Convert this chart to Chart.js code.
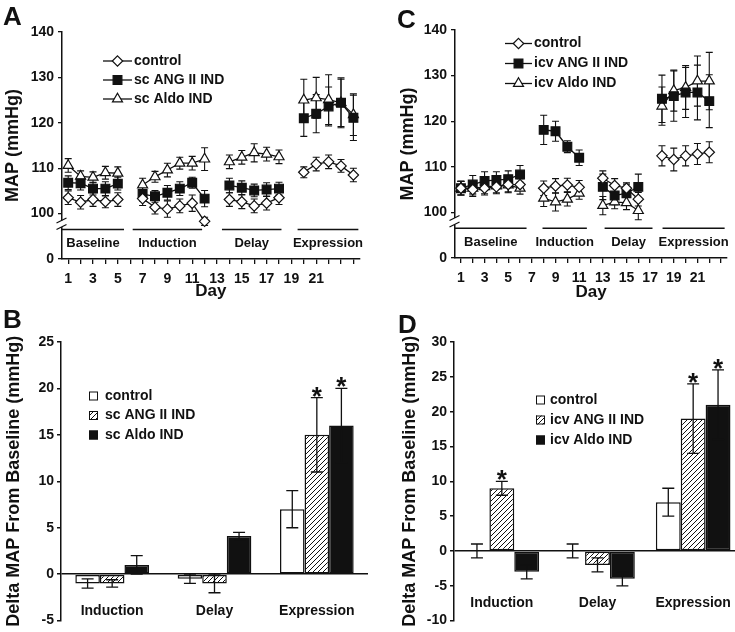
<!DOCTYPE html>
<html>
<head>
<meta charset="utf-8">
<script src="https://cdn.jsdelivr.net/npm/chart.js@4.4.1/dist/chart.umd.min.js"></script>
<style>
  html, body { margin: 0; padding: 0; background: #fff; overflow: hidden; }
  body { position: relative; width: 735px; height: 632px; }
  canvas { position: absolute; }
  .tag { position: absolute; font: bold 26px "Liberation Sans", Arial, sans-serif; line-height: 1; color: #111; }
</style>
</head>
<body>
<canvas id="chartA" width="367" height="310" style="left:0;top:0"></canvas>
<canvas id="chartC" width="368" height="310" style="left:367px;top:0"></canvas>
<canvas id="chartB" width="368" height="332" style="left:0;top:300px"></canvas>
<canvas id="chartD" width="374" height="332" style="left:367px;top:300px"></canvas>
<div class="tag" style="left:3px;top:3px">A</div>
<div class="tag" style="left:397px;top:6px">C</div>
<div class="tag" style="left:3px;top:306px">B</div>
<div class="tag" style="left:398px;top:311px">D</div>
<script>
const FONT = "'Liberation Sans', Arial, Helvetica, sans-serif";
const INK = "#111";

// Panel A: subcutaneous induction, daily MAP (mmHg), null = no recording that day
const aDays = [1, 2, 3, 4, 5, 6, 7, 8, 9, 10, 11, 12, 13, 14, 15, 16, 17, 18, 19, 20, 21, 22, 23, 24];
const aTickDays = aDays;
const aLabels = ["control", "sc ANG II IND", "sc Aldo IND"];
const aControl = [103.5, 102.5, 103.1, 102.6, 103.1, null, 103.3, 101.4, 101.0, 101.7, 102.3, 98.3, null, 103.1, 102.6, 101.7, 102.3, 103.5, null, 109.1, 110.9, 111.4, 110.5, 108.5];
const aControlSem = [1.5, 1.5, 1.5, 1.3, 1.5, null, 1.5, 1.5, 1.8, 1.5, 1.8, 0.9, null, 1.5, 1.5, 1.5, 1.5, 1.5, null, 1.2, 1.5, 1.5, 1.4, 1.5];
const aAng = [106.8, 106.7, 105.5, 105.5, 106.6, null, 104.3, 103.8, 104.6, 105.5, 106.8, 103.3, null, 106.2, 105.7, 105.1, 105.3, 105.5, null, 121.0, 122.0, 123.6, 124.4, 121.1];
const aAngSem = [1.5, 1.5, 1.4, 1.5, 1.4, null, 1.5, 1.3, 1.6, 1.5, 1.2, 1.8, null, 1.6, 1.5, 1.4, 1.5, 1.4, null, 4.0, 4.2, 4.3, 5.2, 5.0];
const aAldo = [110.6, 108.2, 108.0, 109.0, 108.9, null, 106.3, 108.1, 109.6, 111.1, 111.1, 112.0, null, 111.4, 112.4, 113.4, 113.1, 112.5, null, 125.0, 125.5, 125.1, 124.4, 121.8];
const aAldoSem = [1.5, 1.2, 1.2, 1.4, 1.4, null, 1.5, 1.2, 1.5, 1.3, 1.5, 2.5, null, 1.5, 1.5, 2.0, 1.5, 1.5, null, 4.6, 4.5, 5.5, 5.5, 4.6];
const aPhases = ["Baseline", "Induction", "Delay", "Expression"];
const aPhaseStart = [0.5, 6.2, 13.4, 19.5];
const aPhaseEnd = [5.5, 11.8, 18.2, 24.4];

// Panel C: intracerebroventricular induction
const cDays = [1, 2, 3, 4, 5, 6, 7, 8, 9, 10, 11, 12, 13, 14, 15, 16, 17, 18, 19, 20, 21, 22];
const cTickDays = [1, 2, 3, 4, 5, 6, 7, 8, 9, 10, 11, 12, 13, 14, 15, 16, 17, 18, 19, 20, 21, 22, 23];
const cLabels = ["control", "icv ANG II IND", "icv Aldo IND"];
const cControl = [105.3, 105.0, 105.3, 105.6, 106.1, 106.1, null, 105.3, 105.8, 106.0, 105.5, null, 107.5, 105.9, 105.3, 102.9, null, 112.4, 111.6, 112.4, 112.8, 113.2];
const cControlSem = [1.5, 1.5, 1.5, 1.5, 1.8, 1.3, null, 1.6, 1.6, 1.5, 1.5, null, 1.6, 1.5, 1.2, 1.5, null, 2.2, 2.5, 2.2, 2.3, 2.3];
const cAng = [105.3, 106.1, 106.9, 107.1, 107.3, 108.3, null, 118.1, 117.8, 114.4, 112.0, null, 105.6, 103.7, 104.2, 105.6, null, 124.9, 125.5, 126.3, 126.3, 124.4];
const cAngSem = [1.5, 2.0, 2.0, 1.8, 1.8, 2.0, null, 3.2, 2.2, 1.3, 1.7, null, 2.8, 2.0, 2.0, 2.8, null, 5.2, 5.5, 5.5, 6.0, 5.8];
const cAldo = [105.3, 105.3, 105.6, 105.8, 106.0, 105.3, null, 103.1, 102.3, 102.9, 104.2, null, 101.5, 102.3, 102.1, 100.4, null, 123.3, 126.7, 127.4, 128.8, 128.8];
const cAldoSem = [1.5, 1.5, 1.5, 1.5, 1.5, 1.3, null, 1.8, 2.0, 1.5, 1.3, null, 2.0, 1.5, 1.5, 2.0, null, 4.2, 4.5, 4.8, 5.5, 6.3];
const cPhases = ["Baseline", "Induction", "Delay", "Expression"];
const cPhaseStart = [0.5, 7.9, 13.15, 18.05];
const cPhaseEnd = [6.55, 11.65, 17.2, 23.3];

// Panels B and D: change in MAP from baseline per period
const periods = ["Induction", "Delay", "Expression"];
const bLabels = ["control", "sc ANG II IND", "sc Aldo IND"];
const bControl = [-1, -0.5, 7];
const bControlSem = [0.5, 0.5, 2];
const bAng = [-1, -1, 15];
const bAngSem = [0.4, 1, 4];
const bAngSig = [false, false, true];
const bAldo = [1, 4.1, 16];
const bAldoSem = [1, 0.4, 4];
const bAldoSig = [false, false, true];

const dLabels = ["control", "icv ANG II IND", "icv Aldo IND"];
const dControl = [0, 0, 7];
const dControlSem = [1, 1, 2];
const dAng = [9, -2, 19];
const dAngSem = [1, 1, 5];
const dAngSig = [true, false, true];
const dAldo = [-3, -4, 21];
const dAldoSem = [1, 1, 5];
const dAldoSig = [false, false, true];

Chart.defaults.font.family = FONT;
Chart.defaults.font.weight = "bold";
Chart.defaults.color = INK;

const markerControl = { shape: "rectRot", radius: 5.2, fill: "#fff" };
const markerAng = { shape: "rect", radius: 6.2, fill: INK };
const markerAldo = { shape: "triangle", radius: 5.8, fill: "#fff" };

function drawMarker(ctx, shape, x, y, r, fill) {
  ctx.beginPath();
  if (shape === "rectRot") {
    ctx.moveTo(x, y - r);
    ctx.lineTo(x + r, y);
    ctx.lineTo(x, y + r);
    ctx.lineTo(x - r, y);
  } else if (shape === "rect") {
    const h = r * Math.SQRT1_2;
    ctx.rect(x - h, y - h, 2 * h, 2 * h);
  } else {
    const dx = r * Math.sin(Math.PI / 3);
    ctx.moveTo(x, y - r);
    ctx.lineTo(x + dx, y + r / 2);
    ctx.lineTo(x - dx, y + r / 2);
  }
  ctx.closePath();
  ctx.fillStyle = fill;
  ctx.fill();
  ctx.lineWidth = 1.2;
  ctx.strokeStyle = INK;
  ctx.stroke();
}

function makeHatch(ctx) {
  const tile = document.createElement("canvas");
  tile.width = 5;
  tile.height = 5;
  const t = tile.getContext("2d");
  t.fillStyle = "#fff";
  t.fillRect(0, 0, 5, 5);
  t.strokeStyle = INK;
  t.lineWidth = 1;
  t.beginPath();
  t.moveTo(0, 5); t.lineTo(5, 0);
  t.moveTo(-1, 1); t.lineTo(1, -1);
  t.moveTo(4, 6); t.lineTo(6, 4);
  t.stroke();
  return ctx.createPattern(tile, "repeat");
}

function drawErrors(chart, opts) {
  const { ctx, scales: { y } } = chart;
  ctx.save();
  ctx.strokeStyle = INK;
  ctx.lineWidth = opts.width;
  chart.data.datasets.forEach((ds, di) => {
    chart.getDatasetMeta(di).data.forEach((el, i) => {
      const raw = ds.data[i];
      const value = raw !== null && typeof raw === "object" ? raw.y : raw;
      if (value == null || ds.errors[i] == null) return;
      const top = y.getPixelForValue(value + ds.errors[i]);
      const bottom = y.getPixelForValue(value - ds.errors[i]);
      ctx.beginPath();
      ctx.moveTo(el.x, top); ctx.lineTo(el.x, bottom);
      ctx.moveTo(el.x - opts.cap, top); ctx.lineTo(el.x + opts.cap, top);
      ctx.moveTo(el.x - opts.cap, bottom); ctx.lineTo(el.x + opts.cap, bottom);
      ctx.stroke();
      if (ds.sig && ds.sig[i]) {
        ctx.fillStyle = INK;
        ctx.font = `bold 26px ${FONT}`;
        ctx.textAlign = "center";
        ctx.textBaseline = "alphabetic";
        ctx.fillText("*", el.x, top + 7);
      }
    });
  });
  ctx.restore();
}

const errorBars = {
  id: "errorBars",
  beforeDatasetsDraw(chart, args, opts) { if (opts.behind) drawErrors(chart, opts); },
  afterDatasetsDraw(chart, args, opts) { if (!opts.behind) drawErrors(chart, opts); },
};

const phaseBands = {
  id: "phaseBands",
  afterDraw(chart, args, opts) {
    const { ctx, scales: { x, y } } = chart;
    const lineY = y.getPixelForValue(opts.lineValue);
    const textY = y.getPixelForValue(opts.textValue);
    ctx.save();
    ctx.strokeStyle = INK;
    ctx.lineWidth = 1.5;
    ctx.fillStyle = INK;
    ctx.font = `bold 13px ${FONT}`;
    ctx.textAlign = "center";
    ctx.textBaseline = "middle";
    opts.names.forEach((name, i) => {
      const x0 = x.getPixelForValue(opts.start[i]);
      const x1 = x.getPixelForValue(opts.end[i]);
      ctx.beginPath();
      ctx.moveTo(x0, lineY);
      ctx.lineTo(x1, lineY);
      ctx.stroke();
      ctx.fillText(name, (x0 + x1) / 2, textY);
    });
    ctx.restore();
  },
};

const axisBreak = {
  id: "axisBreak",
  afterDraw(chart, args, opts) {
    const { ctx, chartArea, scales: { y } } = chart;
    const x = chartArea.left;
    const yb = y.getPixelForValue(opts.value);
    ctx.save();
    ctx.fillStyle = "#fff";
    ctx.fillRect(x - 2, yb - 4, 4, 6.5);
    ctx.strokeStyle = INK;
    ctx.lineWidth = 1.3;
    ctx.beginPath();
    ctx.moveTo(x - 5.5, yb - 1.5); ctx.lineTo(x + 4.5, yb - 6.5);
    ctx.moveTo(x - 5.5, yb + 5); ctx.lineTo(x + 4.5, yb);
    ctx.stroke();
    ctx.restore();
  },
};

const lineKey = {
  id: "lineKey",
  afterDraw(chart, args, opts) {
    const ctx = chart.ctx;
    ctx.save();
    chart.data.datasets.forEach((ds, i) => {
      const y = opts.y + i * opts.step;
      ctx.strokeStyle = INK;
      ctx.lineWidth = ds.borderWidth;
      ctx.beginPath();
      ctx.moveTo(opts.x, y);
      ctx.lineTo(opts.x + opts.length, y);
      ctx.stroke();
      drawMarker(ctx, ds.pointStyle, opts.x + opts.length / 2, y, ds.pointRadius, ds.pointBackgroundColor);
      ctx.fillStyle = INK;
      ctx.font = `bold 14px ${FONT}`;
      ctx.textAlign = "left";
      ctx.textBaseline = "middle";
      ctx.fillText(ds.label, opts.x + opts.length + opts.gap, y);
    });
    ctx.restore();
  },
};

const boxKey = {
  id: "boxKey",
  afterDraw(chart, args, opts) {
    const ctx = chart.ctx;
    ctx.save();
    chart.data.datasets.forEach((ds, i) => {
      const y = opts.y + i * opts.step;
      ctx.fillStyle = ds.backgroundColor;
      ctx.fillRect(opts.x, y - opts.size / 2, opts.size, opts.size);
      ctx.strokeStyle = INK;
      ctx.lineWidth = 1;
      ctx.strokeRect(opts.x + 0.5, y - opts.size / 2 + 0.5, opts.size - 1, opts.size - 1);
      ctx.fillStyle = INK;
      ctx.font = `bold 14px ${FONT}`;
      ctx.textAlign = "left";
      ctx.textBaseline = "middle";
      ctx.fillText(ds.label, opts.x + opts.size + opts.gap, y);
    });
    ctx.restore();
  },
};

const groupLabels = {
  id: "groupLabels",
  afterDraw(chart, args, opts) {
    const { ctx, scales: { x, y } } = chart;
    const textY = y.getPixelForValue(opts.value);
    ctx.save();
    ctx.fillStyle = INK;
    ctx.font = `bold 14px ${FONT}`;
    ctx.textAlign = "center";
    ctx.textBaseline = "middle";
    chart.data.labels.forEach((label, i) => ctx.fillText(label, x.getPixelForValue(i), textY));
    ctx.restore();
  },
};

function lineSet(label, days, values, errors, marker) {
  return {
    label,
    data: days.map((day, i) => ({ x: day, y: values[i] })),
    errors,
    borderColor: INK,
    borderWidth: 1.3,
    tension: 0,
    spanGaps: false,
    pointStyle: marker.shape,
    pointRadius: marker.radius,
    pointBackgroundColor: marker.fill,
    pointBorderColor: INK,
    pointBorderWidth: 1.2,
  };
}

function barSet(label, values, errors, sig, fill, categoryPercentage) {
  return {
    label,
    data: values,
    errors,
    sig,
    backgroundColor: fill,
    borderColor: INK,
    borderWidth: 1.5,
    borderSkipped: false,
    barPercentage: 1,
    categoryPercentage,
  };
}

const tickFont = { size: 14, weight: "bold" };

function dayChart(canvas, datasets, cfg) {
  return new Chart(canvas, {
    type: "line",
    data: { datasets },
    options: {
      responsive: false,
      animation: false,
      devicePixelRatio: 1,
      layout: { padding: { top: cfg.top, right: cfg.right, left: 0, bottom: 0 } },
      scales: {
        x: {
          type: "linear",
          min: 0.5,
          max: cfg.maxDay,
          afterBuildTicks: (scale) => { scale.ticks = cfg.tickDays.map((value) => ({ value })); },
          afterFit: (scale) => { scale.height = cfg.xHeight; },
          ticks: {
            autoSkip: false,
            maxRotation: 0,
            minRotation: 0,
            padding: 7,
            font: tickFont,
            callback: (value) => (value % 2 === 1 && value <= 21 ? String(value) : ""),
          },
          grid: { drawOnChartArea: false, tickLength: 5, color: INK, lineWidth: 1.3 },
          border: { color: INK, width: 1.5 },
          title: { display: true, text: "Day", font: { size: 17, weight: "bold" }, padding: { top: 0, bottom: cfg.dayPad } },
        },
        y: {
          min: 90,
          max: 140,
          afterFit: (scale) => { scale.width = cfg.yWidth; },
          ticks: { stepSize: 10, padding: 4, font: tickFont, callback: (value) => (value === 90 ? "0" : String(value)) },
          grid: { drawOnChartArea: false, tickLength: 4, color: INK, lineWidth: 1.3 },
          border: { color: INK, width: 1.5 },
          title: { display: true, text: "MAP (mmHg)", font: { size: 18, weight: "bold" }, padding: { top: cfg.titlePad, bottom: 0 } },
        },
      },
      plugins: {
        legend: { display: false },
        tooltip: { enabled: false },
        errorBars: { behind: true, cap: 3.5, width: 1.1 },
        phaseBands: { names: cfg.phases, start: cfg.phaseStart, end: cfg.phaseEnd, lineValue: 96.5, textValue: 93.5 },
        axisBreak: { value: cfg.breakValue },
        lineKey: cfg.key,
      },
    },
    plugins: [errorBars, phaseBands, axisBreak, lineKey],
  });
}

function deltaChart(canvas, datasets, cfg) {
  return new Chart(canvas, {
    type: "bar",
    data: { labels: periods, datasets },
    options: {
      responsive: false,
      animation: false,
      devicePixelRatio: 1,
      layout: { padding: { top: cfg.top, right: 0, left: 0, bottom: cfg.bottom } },
      scales: {
        x: { display: false },
        y: {
          min: cfg.min,
          max: cfg.max,
          afterFit: (scale) => { scale.width = cfg.yWidth; },
          ticks: { stepSize: 5, padding: 3, font: tickFont },
          grid: {
            drawOnChartArea: true,
            tickLength: 4,
            lineWidth: 1.5,
            tickColor: INK,
            color: (ctx) => (ctx.tick && ctx.tick.value === 0 ? INK : "rgba(0,0,0,0)"),
          },
          border: { color: INK, width: 1.5 },
          title: {
            display: true,
            text: "Delta MAP From Baseline (mmHg)",
            font: { size: 18, weight: "bold" },
            padding: { top: cfg.titlePad, bottom: 0 },
          },
        },
      },
      plugins: {
        legend: { display: false },
        tooltip: { enabled: false },
        errorBars: { behind: false, cap: 6, width: 1.3 },
        groupLabels: { value: cfg.labelValue },
        boxKey: cfg.key,
      },
    },
    plugins: [errorBars, groupLabels, boxKey],
  });
}

dayChart(document.querySelector("#chartA"), [
  lineSet(aLabels[0], aDays, aControl, aControlSem, markerControl),
  lineSet(aLabels[1], aDays, aAng, aAngSem, markerAng),
  lineSet(aLabels[2], aDays, aAldo, aAldoSem, markerAldo),
], {
  top: 32, right: 5, maxDay: 24.5, tickDays: aTickDays, xHeight: 51, dayPad: 8, yWidth: 62, titlePad: 2,
  phases: aPhases, phaseStart: aPhaseStart, phaseEnd: aPhaseEnd, breakValue: 97.6,
  key: { x: 103, y: 61, step: 19, length: 29, gap: 2 },
});

dayChart(document.querySelector("#chartC"), [
  lineSet(cLabels[0], cDays, cControl, cControlSem, markerControl),
  lineSet(cLabels[1], cDays, cAng, cAngSem, markerAng),
  lineSet(cLabels[2], cDays, cAldo, cAldoSem, markerAldo),
], {
  top: 30, right: 8, maxDay: 23.5, tickDays: cTickDays, xHeight: 52, dayPad: 7, yWidth: 88, titlePad: 30,
  phases: cPhases, phaseStart: cPhaseStart, phaseEnd: cPhaseEnd, breakValue: 97.9,
  key: { x: 138, y: 43.5, step: 20, length: 27, gap: 2 },
});

const ctxB = document.querySelector("#chartB").getContext("2d");
deltaChart(document.querySelector("#chartB"), [
  barSet(bLabels[0], bControl, bControlSem, null, "#fff", 0.72),
  barSet(bLabels[1], bAng, bAngSem, bAngSig, makeHatch(ctxB), 0.72),
  barSet(bLabels[2], bAldo, bAldoSem, bAldoSig, INK, 0.72),
], {
  top: 42, bottom: 11, min: -5, max: 25, yWidth: 61, titlePad: 3, labelValue: -4,
  key: { x: 89, y: 96, step: 19.5, size: 9, gap: 7 },
});

const ctxD = document.querySelector("#chartD").getContext("2d");
deltaChart(document.querySelector("#chartD"), [
  barSet(dLabels[0], dControl, dControlSem, null, "#fff", 0.78),
  barSet(dLabels[1], dAng, dAngSem, dAngSig, makeHatch(ctxD), 0.78),
  barSet(dLabels[2], dAldo, dAldoSem, dAldoSig, INK, 0.78),
], {
  top: 42, bottom: 10, min: -10, max: 30, yWidth: 87, titlePad: 32, labelValue: -7.5,
  key: { x: 169, y: 100, step: 20, size: 9, gap: 5 },
});
</script>
</body>
</html>
